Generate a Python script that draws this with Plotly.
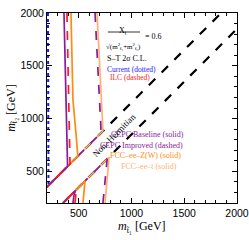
import plotly.graph_objects as go

# ---- data (GeV) ----
band_upper_x = [200, 1850]
band_upper_y = [352, 2000]
band_lower_x = [352, 2000]
band_lower_y = [200, 1850]

cur_x = [209, 209, 210, 214, 200]
cur_y = [2000, 1000, 400, 366, 352]

ilc_up_x = [389, 404, 414, 418, 200]
ilc_up_y = [2000, 1176, 640, 570, 352]
ilc_lo_x = [465, 470, 478, 352]
ilc_lo_y = [200, 280, 328, 200]

cepcb_up_x = [361, 380, 389, 395, 200]
cepcb_up_y = [2000, 1176, 700, 547, 352]
cepcb_lo_x = [446, 455, 470, 352]
cepcb_lo_y = [200, 270, 318, 200]

cepci_up_x = [655, 702, 710, 712, 200]
cepci_up_y = [2000, 1176, 930, 864, 352]
cepci_lo_x = [730, 750, 762, 770, 352]
cepci_lo_y = [200, 420, 560, 618, 200]

fccz_up_x = [427, 446, 478, 486, 492, 200]
fccz_up_y = [2000, 1176, 820, 700, 644, 352]
fccz_lo_x = [541, 548, 555, 560, 352]
fccz_lo_y = [200, 300, 370, 410, 200]

fcct_up_x = [674, 721, 728, 730, 200]
fcct_up_y = [2000, 1176, 930, 882, 352]
fcct_lo_x = [750, 770, 782, 788, 352]
fcct_lo_y = [200, 420, 580, 636, 200]

x_ticks = [500, 1000, 1500, 2000]
y_ticks = [500, 1000, 1500, 2000]

BLUE = "#1a1aff"
RED = "#ff1a1a"
PURPLE = "#8a1a9e"
ORANGE = "#ff8a10"
PEACH = "#ffb070"

fig = go.Figure()

def add(x, y, color, dash="solid", width=1.7):
    fig.add_trace(go.Scatter(x=x, y=y, mode="lines",
                             line=dict(color=color, dash=dash, width=width),
                             showlegend=False, hoverinfo="skip"))

add(band_upper_x, band_upper_y, "black", "dash", 2.2)
add(band_lower_x, band_lower_y, "black", "dash", 2.2)

add(fcct_up_x, fcct_up_y, PEACH)
add(fcct_lo_x, fcct_lo_y, PEACH)
add(cepci_up_x, cepci_up_y, PURPLE, "dash")
add(cepci_lo_x, cepci_lo_y, PURPLE, "dash")
add(fccz_up_x, fccz_up_y, ORANGE)
add(fccz_lo_x, fccz_lo_y, ORANGE)
add(cepcb_up_x, cepcb_up_y, PURPLE)
add(cepcb_lo_x, cepcb_lo_y, PURPLE)
add(ilc_up_x, ilc_up_y, RED, "dash")
add(ilc_lo_x, ilc_lo_y, RED, "dash")
add(cur_x, cur_y, BLUE, "dot", 2.0)

SERIF = "Liberation Serif"

def txt(x, y, s, color="black", size=8, angle=0):
    fig.add_annotation(x=x, y=y, xref="paper", yref="paper", text=s,
                       showarrow=False, textangle=angle, borderpad=0,
                       font=dict(family=SERIF, size=size, color=color))

# formula
txt(0.40, 0.935, "X<sub>t</sub>", size=8)
fig.add_shape(type="line", xref="paper", yref="paper", x0=0.32, x1=0.49, y0=0.9, y1=0.9,
              line=dict(color="black", width=0.8))
txt(0.405, 0.855, "√(m<sup>2</sup><sub>t̃₁</sub>+m<sup>2</sup><sub>t̃₂</sub>)", size=7)
txt(0.56, 0.905, "= 0.6", size=8)

txt(0.42, 0.79, "S–T 2σ C.L.", size=8)
txt(0.445, 0.733, "Current (dotted)", BLUE, 7.5)
txt(0.435, 0.66, "ILC (dashed)", RED, 7.5)

txt(0.725, 0.33, "CEPC Baseline (solid)", PURPLE, 8)
txt(0.72, 0.275, "CEPC Improved (dashed)", PURPLE, 8)
txt(0.71, 0.22, "FCC–ee–Z(W) (solid)", ORANGE, 8)
txt(0.69, 0.163, "FCC–ee–t (solid)", PEACH, 8)

fig.add_annotation(x=840, y=840, xref="x", yref="y", text="Non–Hermitian",
                   showarrow=False, textangle=-45,
                   font=dict(family=SERIF, size=9, color="black"))

# axis titles as annotations
fig.add_annotation(x=0.5, y=-0.125, xref="paper", yref="paper", yanchor="middle",
                   text="<i>m</i><sub>t̃₁</sub> [GeV]", showarrow=False,
                   font=dict(family=SERIF, size=12, color="black"))
fig.add_annotation(x=-0.185, y=0.5, xref="paper", yref="paper", xanchor="center",
                   text="<i>m</i><sub>t̃₂</sub> [GeV]", showarrow=False, textangle=-90,
                   font=dict(family=SERIF, size=12, color="black"))

axis_common = dict(range=[200, 2000], showgrid=False, zeroline=False, automargin=False,
                   showline=True, linecolor="black", linewidth=1, mirror="allticks",
                   ticks="inside", ticklen=5, tickwidth=1, tickcolor="black",
                   tickfont=dict(family="Liberation Sans", size=10.5, color="black"),
                   minor=dict(ticks="inside", ticklen=3, dtick=100, tick0=0,
                              tickcolor="black", tickwidth=1, showgrid=False))

fig.update_xaxes(**axis_common, tickvals=x_ticks, ticktext=[str(v) for v in x_ticks])
fig.update_yaxes(**axis_common, tickvals=y_ticks, ticktext=[str(v) for v in y_ticks])

fig.update_layout(width=249, height=240, margin=dict(l=47, r=12, t=13, b=37),
                  plot_bgcolor="white", paper_bgcolor="white", showlegend=False)

fig.write_html("out.html", config={"displayModeBar": False},
               post_script="document.body.style.margin='0';document.body.style.padding='0';")
